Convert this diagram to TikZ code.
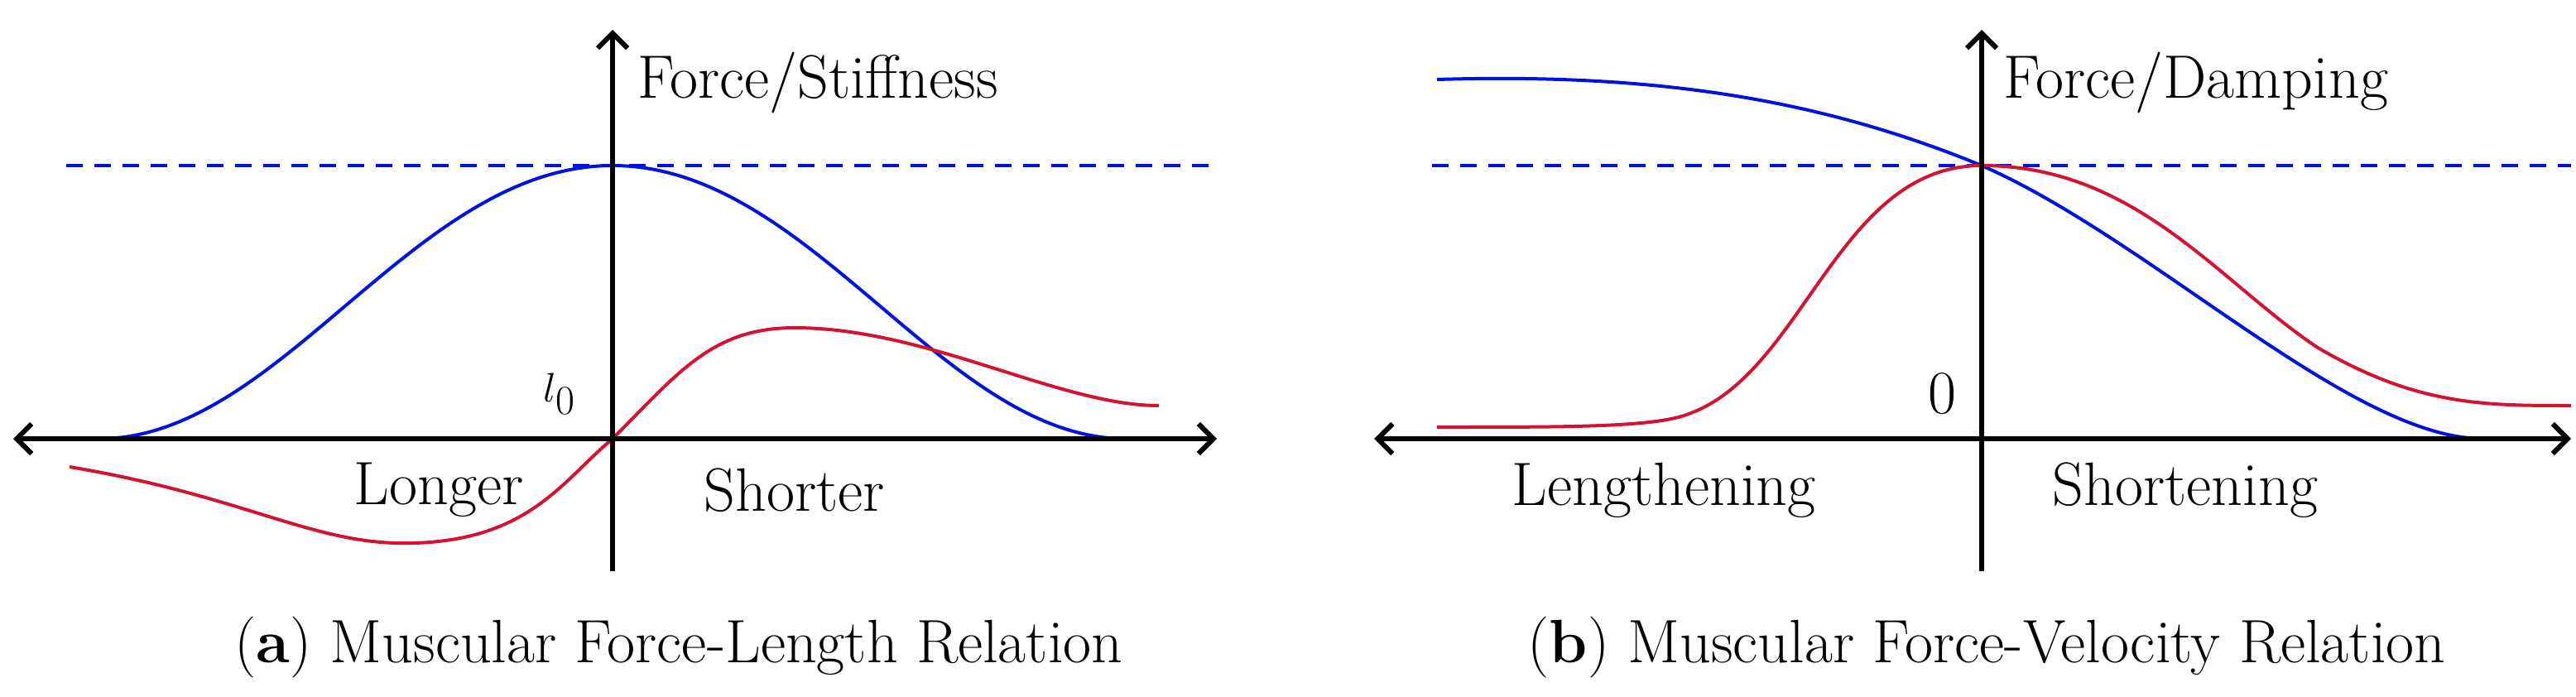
\documentclass[tikz,border=0pt]{standalone}
\usetikzlibrary{arrows.meta}
\begin{document}
\begin{tikzpicture}[x=1pt,y=-1pt,
 ax/.style={line width=3pt,{Straight Barb[length=9pt,width=18pt]}-{Straight Barb[length=9pt,width=18pt]}},
 yax/.style={line width=3pt,-{Straight Barb[length=9pt,width=18pt]}},
 bl/.style={line width=2pt,color={rgb,255:red,0;green,20;blue,220}},
 rd/.style={line width=2pt,color={rgb,255:red,210;green,20;blue,50}},
 dsh/.style={bl,dash pattern=on 10pt off 7pt},
 lab/.style={font=\fontsize{37}{44}\selectfont,inner sep=0pt}]
\useasboundingbox (0,0) rectangle (1556,420.5);
% panel a
\draw[dsh] (40,100) -- (735,100);
\draw[bl] (60,265) .. controls (170,265) and (250,100) .. (370,100) .. controls (490,100) and (570,265) .. (680,265);
\draw[rd] (42,282) .. controls (150,300) and (190,330) .. (250,328) .. controls (320,326) and (340,290) .. (370,265) .. controls (410,225) and (430,198) .. (480,198) .. controls (560,198) and (640,245) .. (700,245);
\coordinate (aL) at (8,265); \coordinate (aR) at (735,265);
\coordinate (aB) at (370,345); \coordinate (aT) at (370,18);
\draw[ax] (aL) -- (aR);
\draw[yax] (aB) -- (aT);
\node[lab,anchor=west] (fs) at (385,50) {Force/Stiffness};
\node[lab] (l0) at (338,238) {$l_0$};
\node[lab] (lo) at (265,296) {Longer};
\node[lab] (sh) at (480,296) {Shorter};
\node[lab] (ca) at (410,391) {(\textbf{a}) Muscular Force-Length Relation};
% panel b
\draw[dsh] (865,100) -- (1553,100);
\draw[bl] (868,48) .. controls (1000,44) and (1100,60) .. (1197,100) .. controls (1300,145) and (1420,265) .. (1500,265);
\draw[rd] (868,258) .. controls (950,258) and (1000,258) .. (1020,250) .. controls (1090,225) and (1110,100) .. (1197,100) .. controls (1290,100) and (1340,170) .. (1400,210) .. controls (1460,245) and (1500,245) .. (1553,245);
\coordinate (bL) at (830,265); \coordinate (bR) at (1553,265);
\coordinate (bB) at (1197,345); \coordinate (bT) at (1197,18);
\draw[ax] (bL) -- (bR);
\draw[yax] (bB) -- (bT);
\node[lab,anchor=west] (fd) at (1210,50) {Force/Damping};
\node[lab] (z) at (1173,238) {0};
\node[lab] (le) at (1005,296) {Lengthening};
\node[lab] (so) at (1320,296) {Shortening};
\node[lab] (cb) at (1200,391) {(\textbf{b}) Muscular Force-Velocity Relation};
\end{tikzpicture}
\end{document}
